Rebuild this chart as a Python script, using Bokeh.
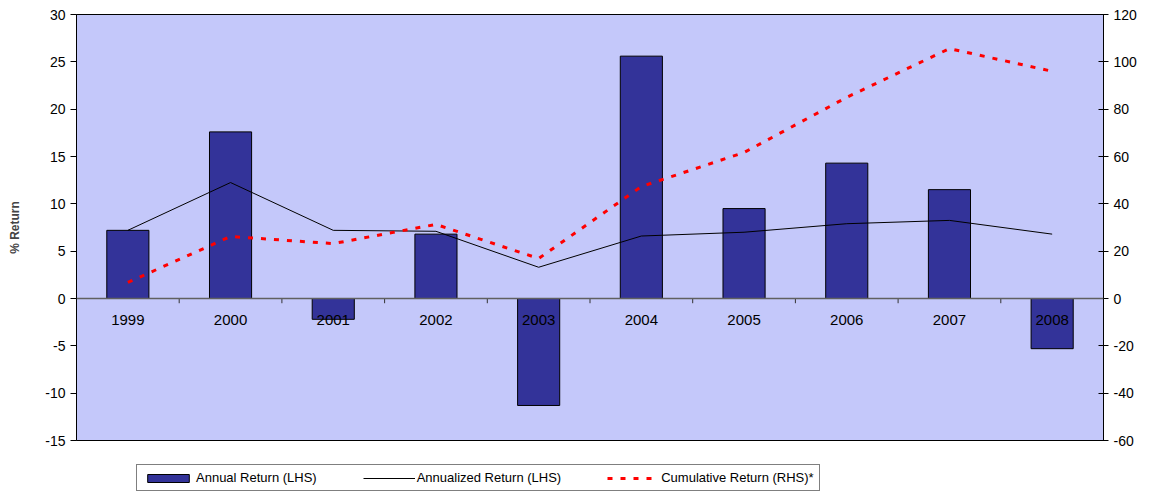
from bokeh.plotting import figure
from bokeh.layouts import column
from bokeh.models import (Range1d, LinearAxis, Legend, LegendItem, Span,
                          ColumnDataSource, SingleIntervalTicker, PrintfTickFormatter)
from bokeh.core.properties import value
from bokeh.embed import file_html
from bokeh.resources import INLINE

years = ["1999", "2000", "2001", "2002", "2003", "2004", "2005", "2006", "2007", "2008"]
annual = [7.2, 17.6, -2.2, 6.8, -11.3, 25.6, 9.5, 14.3, 11.5, -5.3]
annualized = [7.2, 12.25, 7.2, 7.1, 3.3, 6.6, 7.0, 7.9, 8.25, 6.8]
cumulative = [6.8, 26.2, 23.2, 31.3, 16.9, 47.3, 61.7, 85.0, 105.6, 96.0]
legend_labels = ["Annual Return (LHS)", "Annualized Return (LHS)", "Cumulative Return (RHS)*"]

FONT = "Liberation Sans"
BAR = "#333399"
x = list(range(len(years)))
src = ColumnDataSource(dict(x=x, year=years, annual=annual, annualized=annualized,
                            cumulative=cumulative, lab_y=[-2.3] * len(years)))

p = figure(width=1147, height=450, x_range=Range1d(-0.5, len(years) - 0.5),
           y_range=Range1d(-15, 30), output_backend="svg", toolbar_location=None,
           min_border_left=76, min_border_top=14, min_border_right=44, min_border_bottom=10)
p.extra_y_ranges = {"cum": Range1d(-60, 120)}

p.background_fill_color = "#C4C8FA"
p.border_fill_color = "white"
p.outline_line_color = "black"
p.outline_line_width = 1
p.xgrid.visible = False
p.ygrid.visible = False
p.xaxis.visible = False

ya = p.yaxis[0]
ya.ticker = SingleIntervalTicker(interval=5)
ya.formatter = PrintfTickFormatter(format="%d")
ya.axis_label = "% Return"
ya.axis_label_text_font = FONT
ya.axis_label_text_font_style = "bold"
ya.axis_label_text_font_size = "12px"
ya.axis_label_standoff = 20
ya.major_label_text_font = FONT
ya.major_label_text_font_size = "14px"
ya.major_label_text_color = "black"
ya.major_tick_in = 0
ya.major_tick_out = 6
ya.minor_tick_line_color = None
ya.axis_line_color = "black"

ra = LinearAxis(y_range_name="cum", ticker=SingleIntervalTicker(interval=20),
                formatter=PrintfTickFormatter(format="%d"))
ra.major_label_text_font = FONT
ra.major_label_text_font_size = "14px"
ra.major_label_text_color = "black"
ra.major_tick_in = 5
ra.major_tick_out = 5
ra.minor_tick_line_color = None
ra.axis_line_color = "black"
p.add_layout(ra, "right")

# zero line and category separators
p.add_layout(Span(location=0, dimension="width", line_color="#606060", line_width=1.5))
sep = [i + 0.5 for i in x[:-1]]
p.segment(x0=sep, x1=sep, y0=[0] * len(sep), y1=[-0.5] * len(sep), line_color="#333333", line_width=1)

bars = p.vbar(x="x", top="annual", bottom=0, width=0.41, source=src,
              fill_color=BAR, line_color="black", line_width=1)

p.text(x="x", y="lab_y", text="year", source=src, text_font=value(FONT),
       text_font_size="15px", text_align="center", text_baseline="middle", text_color="black")

l1 = p.line(x="x", y="annualized", source=src, line_color="black", line_width=1)
l2 = p.line(x="x", y="cumulative", source=src, y_range_name="cum", line_color="#FF0000",
            line_width=3, line_dash="5 8")

# legend in its own strip below the chart (swatch renderers sit outside the strip's range)
q = figure(width=1147, height=43, x_range=Range1d(0, 1), y_range=Range1d(0, 1),
           output_backend="svg", toolbar_location=None,
           min_border_left=0, min_border_right=0, min_border_top=0, min_border_bottom=0)
q.axis.visible = False
q.grid.visible = False
q.outline_line_color = None
q.background_fill_color = "white"
off = [-10, -9]
g1 = q.vbar(x=off[:1], top=off[:1], width=0.1, fill_color=BAR, line_color="black", line_width=1)
g2 = q.line(x=off, y=off, line_color="black", line_width=1)
g3 = q.line(x=off, y=off, line_color="#FF0000", line_width=3, line_dash="5 8")

legend = Legend(items=[LegendItem(label=legend_labels[0], renderers=[g1]),
                       LegendItem(label=legend_labels[1], renderers=[g2]),
                       LegendItem(label=legend_labels[2], renderers=[g3])],
                orientation="horizontal", location=(60, 2),
                label_text_font=FONT, label_text_font_size="13px", label_text_color="black",
                glyph_width=52, glyph_height=10, label_standoff=2, spacing=46,
                padding=5, margin=0, border_line_color="black", border_line_width=1,
                background_fill_alpha=1.0, label_height=11)
q.add_layout(legend)

open("out.html", "w").write(file_html(column(p, q, spacing=0), INLINE))
